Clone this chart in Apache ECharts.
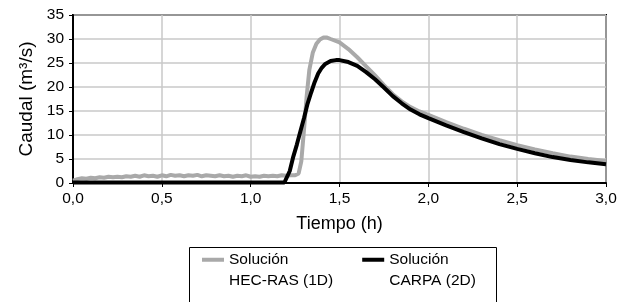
<!DOCTYPE html>
<html>
<head>
<meta charset="utf-8">
<script src="https://cdn.jsdelivr.net/npm/echarts@6/dist/echarts.min.js"></script>
<style>html,body{margin:0;padding:0;background:#fff}#c{width:632px;height:302px}</style>
</head>
<body>
<div id="c"></div>
<script>
// Tick labels
var xTicks = ['0,0', '0,5', '1,0', '1,5', '2,0', '2,5', '3,0'];
var yTicks = [0, 5, 10, 15, 20, 25, 30, 35];

// Solución HEC-RAS (1D)
var hecTime = [0, 0.025, 0.05, 0.075, 0.1, 0.125, 0.15, 0.175, 0.2, 0.225, 0.25, 0.275, 0.3, 0.325, 0.35, 0.375, 0.4, 0.425, 0.45, 0.475, 0.5, 0.525, 0.55, 0.575, 0.6, 0.625, 0.65, 0.675, 0.7, 0.725, 0.75, 0.775, 0.8, 0.825, 0.85, 0.875, 0.9, 0.925, 0.95, 0.975, 1.0, 1.025, 1.05, 1.075, 1.1, 1.125, 1.15, 1.175, 1.2, 1.225, 1.25, 1.27, 1.285, 1.3, 1.315, 1.33, 1.35, 1.37, 1.39, 1.41, 1.43, 1.45, 1.5, 1.55, 1.6, 1.65, 1.7, 1.75, 1.8, 1.85, 1.9, 1.95, 2.0, 2.1, 2.2, 2.3, 2.4, 2.5, 2.6, 2.7, 2.8, 2.9, 3.0];
var hecFlow = [0.5, 0.8, 1.0, 0.9, 1.1, 1.0, 1.2, 1.1, 1.3, 1.2, 1.3, 1.2, 1.4, 1.3, 1.5, 1.3, 1.6, 1.4, 1.5, 1.3, 1.6, 1.4, 1.7, 1.5, 1.6, 1.4, 1.6, 1.5, 1.7, 1.4, 1.6, 1.5, 1.4, 1.6, 1.4, 1.5, 1.3, 1.5, 1.4, 1.6, 1.3, 1.4, 1.3, 1.5, 1.4, 1.5, 1.4, 1.6, 1.5, 1.6, 1.6, 2.0, 4.5, 11.0, 18.0, 23.5, 27.2, 29.0, 29.9, 30.3, 30.3, 30.0, 29.3, 27.9, 26.2, 24.3, 22.4, 20.4, 18.5, 17.0, 15.8, 14.9, 14.2, 12.7, 11.3, 10.0, 8.9, 7.9, 7.0, 6.2, 5.5, 5.0, 4.6];

// Solución CARPA (2D)
var carpaTime = [0, 0.2, 0.4, 0.6, 0.8, 1.0, 1.19, 1.2, 1.22, 1.24, 1.26, 1.28, 1.3, 1.32, 1.34, 1.36, 1.38, 1.4, 1.42, 1.45, 1.48, 1.5, 1.55, 1.6, 1.65, 1.7, 1.75, 1.8, 1.85, 1.9, 1.95, 2.0, 2.1, 2.2, 2.3, 2.4, 2.5, 2.6, 2.7, 2.8, 2.9, 3.0];
var carpaFlow = [0.1, 0.1, 0.1, 0.1, 0.1, 0.1, 0.1, 0.5, 2.5, 5.5, 8.0, 10.8, 13.5, 16.5, 18.8, 21.0, 22.8, 24.0, 24.8, 25.4, 25.6, 25.6, 25.2, 24.4, 23.1, 21.6, 19.9, 18.1, 16.6, 15.3, 14.3, 13.5, 12.0, 10.6, 9.3, 8.1, 7.1, 6.2, 5.4, 4.8, 4.3, 3.9];

// Legend entries
var legendNames = ['Solución\nHEC-RAS (1D)', 'Solución\nCARPA (2D)'];

function pairs(t, v) { return t.map(function (x, i) { return [x, v[i]]; }); }

var FONT = 'Liberation Sans';
var chart = echarts.init(document.getElementById('c'), null, {renderer: 'canvas'});
chart.setOption({
  animation: false,
  textStyle: {fontFamily: FONT},
  grid: {left: 73, right: 26, top: 15, bottom: 119, show: true, borderColor: '#000', borderWidth: 2, backgroundColor: 'transparent'},
  graphic: [{
    type: 'rect', left: 187, top: 245, z: 1,
    shape: {x: 0, y: 0, width: 307, height: 80},
    style: {fill: 'none', stroke: '#000', lineWidth: 1}
  }],
  xAxis: {
    type: 'value', min: 0, max: 3, interval: 0.5,
    name: 'Tiempo (h)', nameLocation: 'middle', nameGap: 32,
    nameTextStyle: {color: '#000', fontSize: 18, fontFamily: FONT},
    axisLine: {onZero: false, lineStyle: {color: '#000', width: 2}},
    axisTick: {show: true, inside: false, length: 4, lineStyle: {color: '#000', width: 1}},
    axisLabel: {color: '#000', fontSize: 15.5, fontFamily: FONT, margin: 8,
      formatter: function (v) { return xTicks[Math.round(v / 0.5)]; }},
    splitLine: {show: true, lineStyle: {color: '#c8c8c8', width: 1.5}}
  },
  yAxis: {
    type: 'value', min: 0, max: 35, interval: 5,
    name: 'Caudal (m³/s)', nameLocation: 'middle', nameGap: 30,
    nameTextStyle: {color: '#000', fontSize: 19, fontFamily: FONT},
    axisLine: {show: true, lineStyle: {color: '#000', width: 2}},
    axisTick: {show: true, inside: false, length: 4, lineStyle: {color: '#000', width: 1}},
    axisLabel: {color: '#000', fontSize: 15.5, fontFamily: FONT, margin: 9,
      formatter: function (v) { return String(yTicks[Math.round(v / 5)]); }},
    splitLine: {show: true, lineStyle: {color: '#c8c8c8', width: 1.5}}
  },
  legend: {
    left: 202, top: 229,
    orient: 'horizontal',
    icon: 'rect', itemWidth: 22, itemHeight: 4, itemGap: 29,
    padding: 0,
    textStyle: {color: '#000', fontSize: 15.5, fontFamily: FONT, lineHeight: 20.5},
    formatter: function (name) { return '\n' + name; },
    data: legendNames
  },
  series: [
    {name: legendNames[0], type: 'line', showSymbol: false, symbol: 'none', smooth: false,
     lineStyle: {color: '#a9a9a9', width: 4}, itemStyle: {color: '#a9a9a9'}, z: 2,
     data: pairs(hecTime, hecFlow)},
    {name: legendNames[1], type: 'line', showSymbol: false, symbol: 'none', smooth: false,
     lineStyle: {color: '#000', width: 4}, itemStyle: {color: '#000'}, z: 3,
     data: pairs(carpaTime, carpaFlow)}
  ]
});
</script>
</body>
</html>
